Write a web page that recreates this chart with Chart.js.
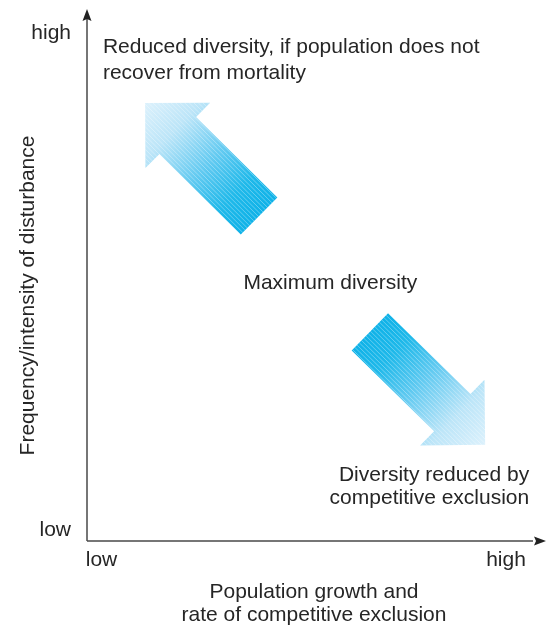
<!DOCTYPE html>
<html><head><meta charset="utf-8">
<script src="https://cdn.jsdelivr.net/npm/chart.js@4/dist/chart.umd.min.js"></script>
<style>html,body{margin:0;padding:0;background:#fff;overflow:hidden}#wrap{width:547px;height:627px;position:relative}</style>
</head><body><div id="wrap"><canvas id="c"></canvas></div>
<script>
// ---- data ----
const xTickValues = [3.2, 92.3];
const xTickLabels = ['low', 'high'];
const yTickValues = [2.2, 103.5];
const yTickLabels = ['low', 'high'];
const xAxisTitle = ['Population growth and', 'rate of competitive exclusion'];
const yAxisTitle = 'Frequency/intensity of disturbance';
// arrows: tail (dark end) -> tip (pale end), in data units
const arrowTailX = [37.9, 62.3];
const arrowTailY = [66.2, 42.6];
const arrowTipX  = [12.8, 87.7];
const arrowTipY  = [89.2, 19.6];
// notes text
const noteTexts = [
  ['Reduced diversity, if population does not', 'recover from mortality'],
  ['Maximum diversity'],
  ['Diversity reduced by', 'competitive exclusion']
];
const noteX = [3.5, 53.6, 97.4];
const noteY = [99.4, 51.3, 12.2];

// ---- style ----
const FONT = '"Liberation Sans", Arial, Helvetica, sans-serif';
const TEXT = '#262626';
const AXIS = '#4a4a4a';
const noteAlign = ['left', 'center', 'right'];
const noteLineGap = [26, 26, 23];

const shapes = {
  id: 'shapes',
  afterDatasetsDraw(chart) {
    const ctx = chart.ctx, xs = chart.scales.x, ys = chart.scales.y;
    // arrows
    for (let i = 0; i < arrowTipX.length; i++) {
      const T = [xs.getPixelForValue(arrowTipX[i]), ys.getPixelForValue(arrowTipY[i])];
      const S = [xs.getPixelForValue(arrowTailX[i]), ys.getPixelForValue(arrowTailY[i])];
      const dx = S[0] - T[0], dy = S[1] - T[1];
      const L = Math.hypot(dx, dy);
      const u = [dx / L, dy / L], v = [-u[1], u[0]];
      const hd = 46, hw = 46, sw = 26;
      const P = (a, b) => [T[0] + u[0] * a + v[0] * b, T[1] + u[1] * a + v[1] * b];
      const pts = [P(0, 0), P(hd, hw), P(hd, sw), P(L, sw), P(L, -sw), P(hd, -sw), P(hd, -hw)];
      ctx.save();
      ctx.beginPath();
      pts.forEach((p, k) => k ? ctx.lineTo(p[0], p[1]) : ctx.moveTo(p[0], p[1]));
      ctx.closePath();
      const g = ctx.createLinearGradient(T[0], T[1], S[0], S[1]);
      g.addColorStop(0, '#dcf1fc');
      g.addColorStop(0.25, '#bce5f8');
      g.addColorStop(0.55, '#62caf1');
      g.addColorStop(0.8, '#1fb9ea');
      g.addColorStop(1, '#0fb2e8');
      ctx.fillStyle = g;
      ctx.fill();
      ctx.clip();
      // fine white stripes parallel to arrow
      ctx.strokeStyle = 'rgba(255,255,255,0.38)';
      ctx.lineWidth = 0.9;
      for (let off = -60; off <= 60; off += 3.2) {
        const a = P(-10, off), b = P(L + 10, off);
        ctx.beginPath(); ctx.moveTo(a[0], a[1]); ctx.lineTo(b[0], b[1]); ctx.stroke();
      }
      ctx.restore();
    }
    // axes with arrowheads
    const x0 = xs.getPixelForValue(0), y0 = ys.getPixelForValue(0);
    const ca = chart.chartArea;
    ctx.save();
    ctx.strokeStyle = AXIS; ctx.fillStyle = '#222';
    ctx.lineWidth = 1.5;
    ctx.beginPath();
    ctx.moveTo(x0, y0); ctx.lineTo(x0, 18);
    ctx.moveTo(x0, y0); ctx.lineTo(ca.right - 8, y0);
    ctx.stroke();
    ctx.beginPath();
    ctx.moveTo(x0, 9); ctx.lineTo(x0 - 4.5, 21); ctx.lineTo(x0, 19); ctx.lineTo(x0 + 4.5, 21); ctx.closePath();
    ctx.fill();
    ctx.beginPath();
    ctx.moveTo(ca.right + 5, y0); ctx.lineTo(ca.right - 7, y0 - 4.5); ctx.lineTo(ca.right - 5, y0); ctx.lineTo(ca.right - 7, y0 + 4.5); ctx.closePath();
    ctx.fill();
    ctx.restore();
    // notes
    ctx.save();
    ctx.font = '21px ' + FONT;
    ctx.fillStyle = TEXT;
    ctx.textBaseline = 'alphabetic';
    noteTexts.forEach((lines, i) => {
      ctx.textAlign = noteAlign[i];
      const px = xs.getPixelForValue(noteX[i]), py = ys.getPixelForValue(noteY[i]);
      lines.forEach((s, k) => ctx.fillText(s, px, py + k * noteLineGap[i]));
    });
    ctx.restore();
  }
};

new Chart(document.getElementById('c'), {
  type: 'scatter',
  data: { datasets: [{
    data: arrowTipX.map((x, i) => ({ x, y: arrowTipY[i] })),
    pointRadius: 0, showLine: false
  }] },
  options: {
    responsive: true, maintainAspectRatio: false, animation: false,
    layout: { padding: { top: 50, right: 6, left: 0, bottom: 0 } },
    plugins: { legend: { display: false }, tooltip: { enabled: false } },
    scales: {
      x: {
        type: 'linear', min: 0, max: 100,
        grid: { display: false, drawTicks: false }, border: { display: false },
        afterBuildTicks: s => { s.ticks = xTickValues.map(v => ({ value: v })); },
        afterFit: s => { s.height = 86; },
        ticks: { padding: 7, color: TEXT, font: { family: FONT, size: 21 },
          callback: (v, i) => xTickLabels[i], maxRotation: 0, autoSkip: false },
        title: { display: true, text: xAxisTitle, color: TEXT,
          font: { family: FONT, size: 21, lineHeight: 1.12 }, padding: { top: 0, bottom: 0 } }
      },
      y: {
        type: 'linear', min: 0, max: 100,
        grid: { display: false, drawTicks: false }, border: { display: false },
        afterBuildTicks: s => { s.ticks = yTickValues.map(v => ({ value: v })); },
        afterFit: s => { s.width = 87; },
        ticks: { padding: 16, color: TEXT, font: { family: FONT, size: 21 },
          callback: (v, i) => yTickLabels[i], autoSkip: false },
        title: { display: true, text: yAxisTitle, color: TEXT,
          font: { family: FONT, size: 21, lineHeight: 1.2 }, padding: { top: 16, bottom: 0 } }
      }
    }
  },
  plugins: [shapes]
});
</script>
</body></html>
